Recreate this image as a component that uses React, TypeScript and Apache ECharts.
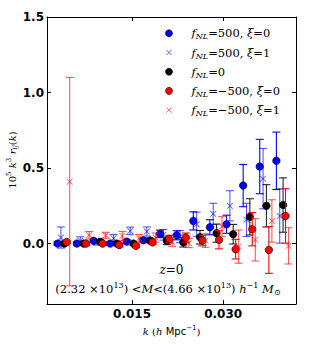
import React, { useEffect, useRef } from 'react';
import * as echarts from 'echarts';

// ---- data ----
const kBase = [0.00274, 0.00593, 0.00867, 0.01141, 0.01414, 0.01688, 0.01962, 0.02235, 0.02509, 0.02782, 0.03056, 0.0333, 0.03603, 0.03877];

const kOffsetBlue0 = 0;
const kOffsetBlue1 = 0.00055;
const kOffsetBlack = 0.0011;
const kOffsetRed0 = 0.0015;
const kOffsetRed1 = 0.002;

const blue0Vals = [0.0, 0.0, 0.018, 0.0, 0.013, 0.022, 0.064, 0.055, 0.15, 0.108, 0.128, 0.384, 0.51, 0.548];
const blue0Err = [0.012, 0.01, 0.01, 0.012, 0.012, 0.015, 0.025, 0.03, 0.06, 0.05, 0.06, 0.14, 0.18, 0.19];

const blue1Vals = [0.04, 0.02, 0.01, 0.035, 0.084, 0.08, 0.058, 0.046, 0.128, 0.197, 0.25, 0.157, 0.43, 0.183];
const blue1Err = [0.07, 0.025, 0.02, 0.025, 0.025, 0.03, 0.035, 0.04, 0.08, 0.07, 0.1, 0.11, 0.2, 0.18];

const blackVals = [0.0, 0.0, 0.012, 0.0, 0.0, 0.02, 0.018, 0.007, 0.042, 0.069, 0.062, 0.177, 0.25, 0.255];
const blackErr = [0.01, 0.01, 0.01, 0.01, 0.012, 0.015, 0.025, 0.03, 0.045, 0.06, 0.065, 0.12, 0.14, 0.18];

const red0Vals = [0.01, 0.0, 0.0, -0.01, -0.015, 0.008, 0.03, 0.04, 0.02, 0.025, -0.037, 0.095, -0.042, 0.183];
const red0Err = [0.01, 0.01, 0.01, 0.012, 0.012, 0.015, 0.025, 0.03, 0.035, 0.06, 0.065, 0.11, 0.155, 0.18];

const red1Vals = [0.41, 0.055, 0.055, 0.05, 0.035, 0.04, 0.01, 0.003, 0.02, 0.113, -0.02, 0.025, 0.15, -0.015];
const red1Err = [0.69, 0.025, 0.02, 0.03, 0.025, 0.03, 0.03, 0.03, 0.045, 0.065, 0.11, 0.14, 0.14, 0.12];

const xTicks = [0.015, 0.03];
const yTicks = [0.0, 0.5, 1.0, 1.5];

const legendNames = ['fNL=500, ξ=0', 'fNL=500, ξ=1', 'fNL=0', 'fNL=−500, ξ=0', 'fNL=−500, ξ=1'];

const SERIF = 'DejaVu Serif';
const SANS = 'DejaVu Sans';
const CROSS = 'path://M0,1L1,0L5,4L9,0L10,1L6,5L10,9L9,10L5,6L1,10L0,9L4,5Z';

type Def = {
  name: string; off: number; vals: number[]; err: number[];
  marker: 'dot' | 'cross'; fill: string; bar: string;
};

const defs: Def[] = [
  { name: legendNames[0], off: kOffsetBlue0, vals: blue0Vals, err: blue0Err, marker: 'dot', fill: '#0000ff', bar: '#0000ff' },
  { name: legendNames[1], off: kOffsetBlue1, vals: blue1Vals, err: blue1Err, marker: 'cross', fill: 'rgba(0,0,255,0.6)', bar: 'rgba(0,0,255,0.65)' },
  { name: legendNames[2], off: kOffsetBlack, vals: blackVals, err: blackErr, marker: 'dot', fill: '#000000', bar: 'rgba(0,0,0,0.85)' },
  { name: legendNames[3], off: kOffsetRed0, vals: red0Vals, err: red0Err, marker: 'dot', fill: '#ff0000', bar: '#ff0000' },
  { name: legendNames[4], off: kOffsetRed1, vals: red1Vals, err: red1Err, marker: 'cross', fill: 'rgba(255,0,0,0.6)', bar: 'rgba(255,0,0,0.65)' },
];

const legendRich: Record<string, string> = {
  [legendNames[0]]: '{i|f}{s|NL}{n|=500, }{i|ξ}{n|=0}',
  [legendNames[1]]: '{i|f}{s|NL}{n|=500, }{i|ξ}{n|=1}',
  [legendNames[2]]: '{i|f}{s|NL}{n|=0}',
  [legendNames[3]]: '{i|f}{s|NL}{n|=−500, }{i|ξ}{n|=0}',
  [legendNames[4]]: '{i|f}{s|NL}{n|=−500, }{i|ξ}{n|=1}',
};

function richStyles(fs: number) {
  const lh = Math.round(fs * 1.3);
  return {
    n: { fontFamily: SERIF, fontSize: fs, lineHeight: lh, color: '#000' },
    i: { fontFamily: SERIF, fontStyle: 'italic', fontSize: fs, lineHeight: lh, color: '#000' },
    r: { fontFamily: SANS, fontSize: fs, lineHeight: lh, color: '#000' },
    s: { fontFamily: SERIF, fontStyle: 'italic', fontSize: fs * 0.7, lineHeight: fs * 0.75, verticalAlign: 'bottom', color: '#000' },
    u: { fontFamily: SERIF, fontSize: fs * 0.7, lineHeight: fs * 0.75, verticalAlign: 'top', color: '#000' },
    us: { fontFamily: SANS, fontSize: fs * 0.7, lineHeight: fs * 0.75, verticalAlign: 'top', color: '#000' },
  };
}

const axisLineStyle = { show: true, onZero: false, lineStyle: { color: '#000', width: 1 } };

export default function App() {
  const ref = useRef<HTMLDivElement>(null);
  useEffect(() => {
    document.body.style.margin = '0';
    const chart = echarts.init(ref.current!, null, { renderer: 'svg' });

    const series: any[] = [];
    defs.forEach((d, idx) => {
      const data = kBase.map((k, j) => [k + d.off, d.vals[j], d.err[j]]);
      series.push({
        type: 'custom',
        name: d.name + ' err',
        z: 2 + idx * 2,
        encode: { x: 0, y: 1 },
        data,
        renderItem: (params: any, api: any) => {
          const x = api.value(0), y = api.value(1), e = api.value(2);
          const t = api.coord([x, y + e]);
          const b = api.coord([x, y - e]);
          const cw = 4;
          const st = { stroke: d.bar, lineWidth: 1.1 };
          return {
            type: 'group',
            children: [
              { type: 'line', shape: { x1: t[0], y1: t[1], x2: b[0], y2: b[1] }, style: st },
              { type: 'line', shape: { x1: t[0] - cw, y1: t[1], x2: t[0] + cw, y2: t[1] }, style: st },
              { type: 'line', shape: { x1: b[0] - cw, y1: b[1], x2: b[0] + cw, y2: b[1] }, style: st },
            ],
          };
        },
      });
      series.push({
        type: 'scatter',
        name: d.name,
        z: 3 + idx * 2,
        data: data.map((p) => [p[0], p[1]]),
        symbol: d.marker === 'dot' ? 'circle' : CROSS,
        symbolSize: d.marker === 'dot' ? 7.5 : 6.5,
        itemStyle: d.marker === 'dot'
          ? { color: d.fill, borderColor: '#000', borderWidth: 0.6, opacity: 1 }
          : { color: d.fill, opacity: 1 },
      });
    });

    // legend drawn as graphic
    const legendEls: any[] = [];
    defs.forEach((d, i) => {
      const y = 33.3 + 19.2 * i;
      const x = 169;
      if (d.marker === 'dot') {
        legendEls.push({ type: 'circle', shape: { cx: x, cy: y, r: 3.5 }, style: { fill: d.fill, stroke: '#000', lineWidth: 0.6 } });
      } else {
        legendEls.push({ type: 'line', shape: { x1: x - 2.5, y1: y - 2.5, x2: x + 2.5, y2: y + 2.5 }, style: { stroke: d.fill, lineWidth: 1 } });
        legendEls.push({ type: 'line', shape: { x1: x - 2.5, y1: y + 2.5, x2: x + 2.5, y2: y - 2.5 }, style: { stroke: d.fill, lineWidth: 1 } });
      }
      legendEls.push({
        type: 'text', x: 191.5, y,
        style: { text: legendRich[d.name], rich: richStyles(11.5), align: 'left', verticalAlign: 'middle' },
      });
    });

    const option: any = {
      animation: false,
      backgroundColor: '#fff',
      grid: { left: 47, top: 17, width: 249, height: 287, show: false },
      xAxis: [
        {
          type: 'value', min: 0.001, max: 0.042, position: 'bottom',
          axisLine: axisLineStyle,
          axisTick: { show: true, inside: true, length: 4, customValues: xTicks, lineStyle: { color: '#000' } },
          axisLabel: {
            customValues: xTicks, formatter: (v: number) => v.toFixed(3), margin: 4,
            fontFamily: SANS, fontWeight: 'bold', fontSize: 12, color: '#000',
          },
          splitLine: { show: false },
          name: '{i|k} {n|(}{i|h} {r|Mpc}{us|−1}{n|)}',
          nameLocation: 'middle', nameGap: 12,
          nameTextStyle: { rich: richStyles(10) },
        },
        {
          type: 'value', min: 0.001, max: 0.042, position: 'top',
          axisLine: axisLineStyle,
          axisTick: { show: true, inside: true, length: 4, customValues: xTicks, lineStyle: { color: '#000' } },
          axisLabel: { show: false },
          splitLine: { show: false },
        },
      ],
      yAxis: [
        {
          type: 'value', min: -0.4, max: 1.5, position: 'left',
          axisLine: axisLineStyle,
          axisTick: { show: true, inside: true, length: 4, customValues: yTicks, lineStyle: { color: '#000' } },
          axisLabel: {
            customValues: yTicks, formatter: (v: number) => v.toFixed(1), margin: 3,
            fontFamily: SANS, fontWeight: 'bold', fontSize: 12, color: '#000',
          },
          splitLine: { show: false },
        },
        {
          type: 'value', min: -0.4, max: 1.5, position: 'right',
          axisLine: axisLineStyle,
          axisTick: { show: true, inside: true, length: 4, customValues: yTicks, lineStyle: { color: '#000' } },
          axisLabel: { show: false },
          splitLine: { show: false },
        },
      ],
      series,
      graphic: [
        ...legendEls,
        {
          type: 'text', x: 12, y: 160, rotation: Math.PI / 2,
          style: {
            text: '{n|10}{u|5} {i|k}{u|3} {i|r}{s|ij}{n|(}{i|k}{n|)}',
            rich: richStyles(10), align: 'center', verticalAlign: 'middle',
          },
        },
        {
          type: 'text', x: 171.5, y: 270,
          style: { text: '{i|z}{n|=0}', rich: richStyles(12), align: 'center', verticalAlign: 'middle' },
        },
        {
          type: 'text', x: 168, y: 289,
          style: {
            text: '{n|(2.32 ×10}{u|13}{n|) <}{i|M}{n|<(4.66 ×10}{u|13}{n|) }{i|h}{u|−1}{n| }{i|M}{s|⊙}',
            rich: richStyles(11.5), align: 'center', verticalAlign: 'middle',
          },
        },
      ],
    };
    chart.setOption(option);
    return () => chart.dispose();
  }, []);
  return <div ref={ref} style={{ width: 311, height: 348 }} />;
}
